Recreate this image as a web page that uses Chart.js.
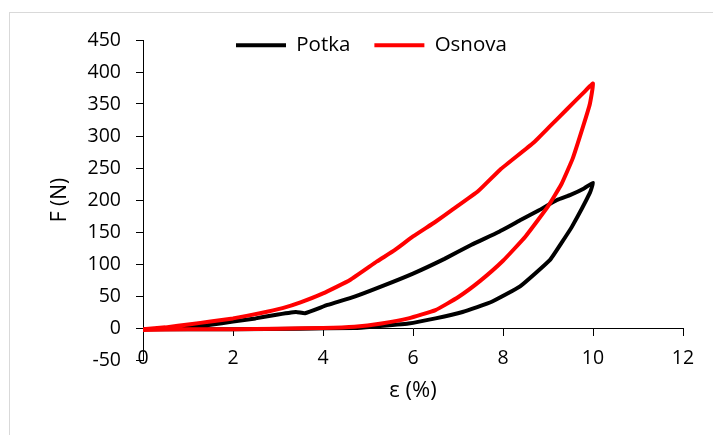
<!DOCTYPE html>
<html lang="sl">
<head>
<meta charset="UTF-8">
<title>F - ε</title>
<style>
  html, body { margin: 0; padding: 0; background: #fff; }
  .wrap { position: relative; width: 713px; height: 435px; overflow: hidden; }
  .frame { position: absolute; left: 9px; top: 12px; width: 760px; height: 480px; border: 1px solid #d9d9d9; }
  canvas { position: absolute; left: 0; top: 0; }
</style>
<script src="https://cdn.jsdelivr.net/npm/chart.js"></script>
</head>
<body>
<div class="wrap">
  <div class="frame"></div>
  <canvas id="loopChart" width="713" height="435"></canvas>
</div>
<script>
// loading branch up to 10 %, then unloading branch back to 0
const potkaStrain = [0, 0.5, 1.0, 1.5, 2.0, 2.5, 2.9, 3.4, 3.6, 4.1, 4.7, 5.3, 6.0, 6.7, 7.3, 7.9, 8.4, 8.8, 9.2, 9.5, 9.8, 10.0,
                     9.93, 9.53, 9.3, 9.04, 8.38, 7.75, 7.1, 6.5, 5.9, 5.1, 4.7, 3.5, 2.0, 1.0, 0];
const potkaForce  = [-2, -1, 1, 5, 10, 15, 20, 25, 23, 36, 49, 65, 85, 108, 130, 150, 169, 184, 200, 208, 218, 227,
                     211, 158, 133, 106, 65, 41, 25, 15, 7, 2, 0, -1, -2, -2, -2];

const osnovaStrain = [0, 0.5, 1.05, 1.5, 2.0, 2.6, 3.1, 3.5, 4.0, 4.6, 5.2, 5.6, 6.0, 6.5, 6.9, 7.45, 7.93, 8.67, 9.04, 9.41, 9.78, 10.0,
                      9.93, 9.78, 9.55, 9.3, 9.0, 8.5, 8.0, 7.5, 7.0, 6.5, 5.9, 5.3, 4.7, 4.0, 3.0, 2.0, 1.0, 0];
const osnovaForce  = [-2, 1, 6, 10, 15, 23, 31, 40, 54, 75, 104, 122, 143, 166, 186, 214, 247, 289, 315, 341, 367, 382,
                      350, 315, 265, 225, 190, 143, 105, 74, 48, 28, 15, 7, 2, 0, -1, -2, -2, -3];

const seriesNames = ['Potka', 'Osnova'];
const xTickValues = [0, 2, 4, 6, 8, 10, 12];
const yTickValues = [-50, 0, 50, 100, 150, 200, 250, 300, 350, 400, 450];

const FONT = "'Open Sans', sans-serif";

function toPoints(xs, ys) {
  return xs.map((x, i) => ({ x: x, y: ys[i] }));
}

// keep the legend inside the plot, like the original
const legendPlacer = {
  id: 'legendPlacer',
  beforeLayout(chart) {
    const lg = chart.legend;
    if (lg && !lg._flat) {
      const fit = lg.fit;
      lg.fit = function () { fit.call(this); this.height = 0; };
      lg._flat = true;
    }
  },
  afterLayout(chart) {
    const lg = chart.legend;
    lg.left = 212; lg.right = 713; lg.top = 11; lg.bottom = 80;
  }
};

const ctx = document.getElementById('loopChart').getContext('2d');
new Chart(ctx, {
  type: 'scatter',
  data: {
    datasets: [
      {
        label: seriesNames[0],
        data: toPoints(potkaStrain, potkaForce),
        borderColor: '#000000',
        backgroundColor: '#000000',
        order: 1
      },
      {
        label: seriesNames[1],
        data: toPoints(osnovaStrain, osnovaForce),
        borderColor: '#ff0000',
        backgroundColor: '#ff0000',
        order: 0
      }
    ]
  },
  options: {
    responsive: false,
    animation: false,
    layout: { padding: { left: 0, top: 40, right: 30, bottom: 75 } },
    datasets: {
      scatter: {
        showLine: true,
        borderWidth: 4,
        pointRadius: 0,
        tension: 0.12,
        borderJoinStyle: 'round',
        borderCapStyle: 'round'
      }
    },
    scales: {
      x: {
        type: 'linear',
        min: 0,
        max: 12,
        position: { y: 0 },
        afterBuildTicks: s => { s.ticks = xTickValues.map(v => ({ value: v })); },
        grid: { drawOnChartArea: false, tickLength: 7, color: '#000' },
        border: { color: '#000', width: 1 },
        ticks: { color: '#000', padding: 12, font: { family: FONT, size: 19.5 } },
        title: {
          display: true, text: 'ε (%)', color: '#000',
          padding: { top: -5, bottom: 0 },
          font: { family: FONT, size: 22 }
        }
      },
      y: {
        type: 'linear',
        min: -50,
        max: 450,
        afterBuildTicks: s => { s.ticks = yTickValues.map(v => ({ value: v })); },
        afterFit: s => { s.width = 143; },
        grid: { drawOnChartArea: false, tickLength: 7, color: '#000' },
        border: { color: '#000', width: 1 },
        ticks: { color: '#000', padding: 15, font: { family: FONT, size: 19.5 } },
        title: {
          display: true, text: 'F (N)', color: '#000',
          padding: { top: 47, bottom: 0 },
          font: { family: FONT, size: 21 }
        }
      }
    },
    plugins: {
      tooltip: { enabled: false },
      legend: {
        position: 'top',
        align: 'start',
        labels: {
          color: '#000',
          boxWidth: 50,
          boxHeight: 4,
          padding: 24,
          font: { family: FONT, size: 20.5 },
          sort: (a, b) => a.datasetIndex - b.datasetIndex,
          generateLabels(chart) {
            const items = Chart.defaults.plugins.legend.labels.generateLabels(chart);
            items.forEach(it => { it.lineWidth = 0; it.fillStyle = it.strokeStyle; });
            return items;
          }
        }
      }
    }
  },
  plugins: [legendPlacer]
});
</script>
</body>
</html>
